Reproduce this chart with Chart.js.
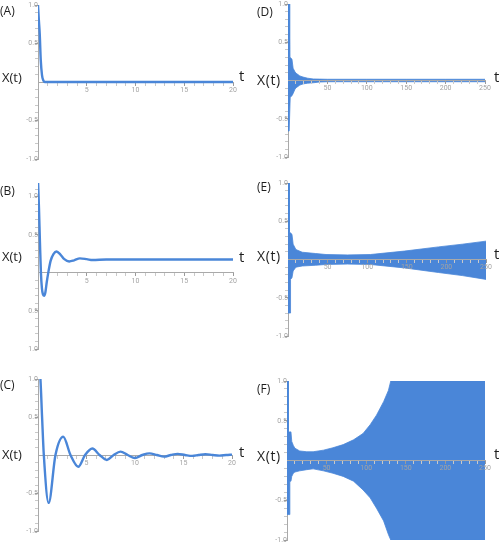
<!DOCTYPE html>
<html><head><meta charset="utf-8">
<script src="https://cdn.jsdelivr.net/npm/chart.js@4.4.1/dist/chart.umd.min.js"></script>
<style>
html,body{margin:0;padding:0;background:#fff;}
#wrap{position:relative;width:501px;height:545px;overflow:hidden;}
canvas.p{position:absolute;left:0;top:0;}
.lbl{position:absolute;font-family:"Open Sans",sans-serif;color:#1e1e1e;line-height:1;white-space:nowrap;}
.pn{font-size:12px;}
.yl{font-size:13px;}
.tl{font-size:15px;}
.r .yl{font-size:14px;letter-spacing:0.6px;}
</style></head><body>
<div id="wrap">
<canvas class="p" id="cA" width="501" height="545"></canvas>
<canvas class="p" id="cB" width="501" height="545"></canvas>
<canvas class="p" id="cC" width="501" height="545"></canvas>
<canvas class="p" id="cD" width="501" height="545"></canvas>
<canvas class="p" id="cE" width="501" height="545"></canvas>
<canvas class="p" id="cF" width="501" height="545"></canvas>

<div class="lbl pn" style="left:0px;top:5px">(A)</div>
<div class="lbl yl" style="left:2px;top:71px">X(t)</div>
<div class="lbl tl" style="left:239px;top:68px">t</div>

<div class="lbl pn" style="left:0px;top:185px">(B)</div>
<div class="lbl yl" style="left:2px;top:250px">X(t)</div>
<div class="lbl tl" style="left:239px;top:249px">t</div>

<div class="lbl pn" style="left:0px;top:379px">(C)</div>
<div class="lbl yl" style="left:2px;top:448px">X(t)</div>
<div class="lbl tl" style="left:239px;top:444px">t</div>

<div class="r">
<div class="lbl pn" style="left:257px;top:6px">(D)</div>
<div class="lbl yl" style="left:257px;top:73px">X(t)</div>
<div class="lbl tl" style="left:494px;top:69px">t</div>

<div class="lbl pn" style="left:257px;top:181px">(E)</div>
<div class="lbl yl" style="left:257px;top:249px">X(t)</div>
<div class="lbl tl" style="left:494px;top:246px">t</div>

<div class="lbl pn" style="left:257px;top:383px">(F)</div>
<div class="lbl yl" style="left:257px;top:449px">X(t)</div>
<div class="lbl tl" style="left:494px;top:446px">t</div>
</div>
</div>
<script>
// ---------- data ----------
const T_A = [0, 0.08, 0.18, 0.28, 0.41, 0.55, 0.7, 1.0, 20];
const X_A = [1.0, 0.82, 0.62, 0.29, 0.09, 0.02, 0.0, 0.0, 0.0];

const T_B = [0, 0.1, 0.2, 0.3, 0.4, 0.5, 0.62, 0.75, 0.9, 1.05, 1.3, 1.6, 1.9, 2.3, 2.7, 3.2, 3.7, 4.3, 5.0, 5.6, 7, 20];
const X_B = [1.22, 0.85, 0.4, 0.0, -0.2, -0.28, -0.30, -0.26, -0.12, 0.0, 0.16, 0.25, 0.28, 0.24, 0.18, 0.15, 0.165, 0.19, 0.18, 0.168, 0.175, 0.175];

const T_C = [0, 0.25, 0.42, 0.6, 1.1, 1.8, 2.6, 3.35, 4.15, 4.85, 5.6, 6.35, 7.1, 7.8, 8.5, 9.25, 10.0, 10.75, 11.5, 12.25, 13.0, 13.7, 14.4, 15.15, 15.9, 16.55, 17.25, 18.0, 18.7, 19.4, 20];
const X_C = [1.3, 1.0, 0.5, 0.0, -0.63, 0.0, 0.24, 0.0, -0.155, 0.0, 0.085, 0.0, -0.065, 0.0, 0.045, 0.0, -0.04, 0.0, 0.022, 0.0, -0.022, 0.0, 0.015, 0.0, -0.012, 0.0, 0.01, 0.0, -0.008, 0.0, 0.005];

// envelopes of the fast oscillation (upper / lower edge of the filled band)
const T_D     = [0, 1.5, 1.8, 2.5, 2.8, 5, 6.5, 9, 11, 15, 19, 25, 32, 40, 50, 100, 150, 200, 250];
const UPPER_D = [1.0, 1.0, 0.3, 0.3, 0.3, 0.28, 0.16, 0.11, 0.09, 0.06, 0.045, 0.03, 0.02, 0.018, 0.016, 0.016, 0.016, 0.016, 0.016];
const LOWER_D = [-0.66, -0.66, -0.66, -0.66, -0.22, -0.2, -0.17, -0.11, -0.09, -0.06, -0.045, -0.035, -0.03, -0.02, -0.016, -0.016, -0.016, -0.016, -0.016];

const T_E     = [0, 1.5, 1.8, 2.8, 3.2, 5, 6.5, 10, 18, 35, 48, 75, 104, 147, 190, 220, 250];
const UPPER_E = [1.0, 1.0, 0.35, 0.35, 0.35, 0.33, 0.2, 0.13, 0.095, 0.078, 0.065, 0.06, 0.065, 0.11, 0.165, 0.2, 0.24];
const LOWER_E = [-0.7, -0.7, -0.7, -0.7, -0.26, -0.24, -0.15, -0.1, -0.085, -0.075, -0.065, -0.06, -0.065, -0.11, -0.17, -0.21, -0.26];

const T_F     = [0, 1.5, 1.8, 3.2, 3.6, 5, 6, 8, 10, 16, 25, 33, 46, 58, 71, 84, 96, 105, 113, 122, 128, 131, 250];
const UPPER_F = [1.0, 1.0, 0.36, 0.36, 0.36, 0.36, 0.24, 0.19, 0.155, 0.12, 0.11, 0.11, 0.13, 0.16, 0.2, 0.26, 0.34, 0.45, 0.57, 0.74, 0.88, 1.0, 1.0];
const LOWER_F = [-0.68, -0.68, -0.68, -0.68, -0.26, -0.26, -0.2, -0.16, -0.145, -0.13, -0.115, -0.105, -0.13, -0.16, -0.2, -0.26, -0.37, -0.47, -0.6, -0.76, -0.93, -1.0, -1.0];

// tick labels
const X_TICKS_SHORT = [5, 10, 15, 20];
const X_LABELS_SHORT = ['5', '10', '15', '20'];
const X_TICKS_LONG = [50, 100, 150, 200, 250];
const X_LABELS_LONG = ['50', '100', '150', '200', '250'];
const Y_TICKS = [-1, -0.5, 0.5, 1];
const Y_LABELS = ['-1.0', '-0.5', '0.5', '1.0'];
const Y_LABELS_B = ['1.0', '0.5', '0.5', '1.0'];

// ---------- drawing ----------
const W = 501, H = 545;
const BLUE = '#4a86d8';
const AXIS = '#a9a9a9';
const LABEL = '#a3a3a3';

function pts(ts, vs) { return ts.map((t, i) => ({ x: t, y: vs[i] })); }

function lineSet(ts, vs) {
  return [{ data: pts(ts, vs), borderColor: BLUE, borderWidth: 2.4, pointRadius: 0,
            cubicInterpolationMode: 'monotone', fill: false }];
}
function bandSet(ts, up, lo) {
  return [
    { data: pts(ts, up), borderColor: BLUE, backgroundColor: BLUE, borderWidth: 0.8, pointRadius: 0, fill: false, tension: 0 },
    { data: pts(ts, lo), borderColor: BLUE, backgroundColor: BLUE, borderWidth: 0.8, pointRadius: 0, fill: '-1', tension: 0 }
  ];
}

function makeChart(id, cfg) {
  const [L, T, R, B] = cfg.box;
  const xMinor = [];
  for (let i = 1; i * cfg.xStep <= cfg.xMax + 1e-9; i++) xMinor.push(i * cfg.xStep);
  const yMinor = [];
  for (let i = -10; i <= cfg.yTickTop; i++) if (i !== 0) yMinor.push(i / 10);
  const xMap = {}; cfg.xTicks.forEach((v, i) => xMap[v] = cfg.xLabels[i]);
  const yMap = {}; Y_TICKS.forEach((v, i) => yMap[v] = cfg.yLabels[i]);
  const zeroPad = s => { s.paddingLeft = s.paddingRight = s.paddingTop = s.paddingBottom = 0; };
  const font = { size: 7, family: 'Roboto' };
  new Chart(document.getElementById(id), {
    type: 'line',
    data: { datasets: cfg.datasets },
    options: {
      responsive: false, animation: false, events: [],
      layout: { padding: { left: L, top: T, right: W - R, bottom: H - B } },
      plugins: { legend: { display: false }, tooltip: { enabled: false } },
      scales: {
        x: {
          type: 'linear', min: 0, max: cfg.xMax, position: { y: 0 },
          afterFit: s => { s.height = 0; zeroPad(s); },
          afterBuildTicks: s => { s.ticks = xMinor.map(v => ({ value: v })); },
          grid: { drawOnChartArea: false, drawTicks: true, tickLength: 3, z: cfg.z,
                  tickColor: c => (c.tick && xMap[c.tick.value] !== undefined) ? '#9a9a9a' : '#c9c9c9' },
          border: { display: true, color: AXIS, width: 1, z: cfg.z },
          ticks: { autoSkip: false, maxRotation: 0, minRotation: 0, padding: 1, font, color: LABEL, z: cfg.z,
                   callback: v => xMap[v] !== undefined ? xMap[v] : '' }
        },
        y: {
          type: 'linear', min: cfg.yMin, max: cfg.yMax, position: { x: 0 },
          afterFit: s => { s.width = 0; zeroPad(s); },
          afterBuildTicks: s => { s.ticks = yMinor.map(v => ({ value: v })); },
          grid: { drawOnChartArea: false, drawTicks: true, tickLength: 3,
                  tickColor: c => (c.tick && yMap[c.tick.value] !== undefined) ? '#9a9a9a' : '#c9c9c9' },
          border: { display: true, color: AXIS, width: 1 },
          ticks: { autoSkip: false, padding: 1, font, color: LABEL,
                   callback: v => yMap[v] !== undefined ? yMap[v] : '' }
        }
      }
    }
  });
}

const SHORT = { xMax: 20, xStep: 1, xTicks: X_TICKS_SHORT, xLabels: X_LABELS_SHORT };
const LONG = { xMax: 250, xStep: 10, xTicks: X_TICKS_LONG, xLabels: X_LABELS_LONG };

makeChart('cA', Object.assign({}, SHORT, { box: [38, 5, 233, 159], yMin: -1, yMax: 1, yTickTop: 10, yLabels: Y_LABELS, z: 0, datasets: lineSet(T_A, X_A) }));
makeChart('cB', Object.assign({}, SHORT, { box: [38, 183, 233, 349], yMin: -1, yMax: 1.18, yTickTop: 11, yLabels: Y_LABELS_B, z: 0, datasets: lineSet(T_B, X_B) }));
makeChart('cC', Object.assign({}, SHORT, { box: [38, 379, 232, 531], yMin: -1, yMax: 1, yTickTop: 10, yLabels: Y_LABELS, z: 0, datasets: lineSet(T_C, X_C) }));
makeChart('cD', Object.assign({}, LONG, { box: [288, 4, 485, 157], yMin: -1, yMax: 1, yTickTop: 10, yLabels: Y_LABELS, z: 1, datasets: bandSet(T_D, UPPER_D, LOWER_D) }));
makeChart('cE', Object.assign({}, LONG, { box: [288, 183, 486, 336], yMin: -1, yMax: 1, yTickTop: 10, yLabels: Y_LABELS, z: 1, datasets: bandSet(T_E, UPPER_E, LOWER_E) }));
makeChart('cF', Object.assign({}, LONG, { box: [287, 381, 485, 540], yMin: -1, yMax: 1, yTickTop: 10, yLabels: Y_LABELS, z: 1, datasets: bandSet(T_F, UPPER_F, LOWER_F) }));
</script>
</body></html>
